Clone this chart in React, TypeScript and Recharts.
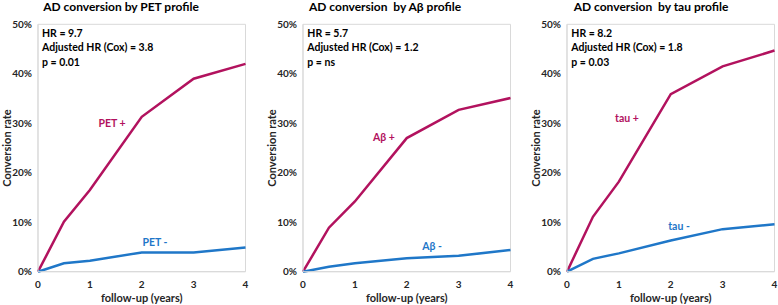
import React from 'react';
import { LineChart, Line, XAxis, YAxis, ReferenceArea } from 'recharts';

const years = [0, 0.5, 1, 2, 3, 4];
const xTicks = [0, 1, 2, 3, 4];
const yTicks = [0, 10, 20, 30, 40, 50];

const petPos = [0, 10.1, 16.5, 31.3, 39.0, 42.0];
const petNeg = [0, 1.7, 2.2, 3.9, 3.9, 4.9];
const abPos = [0, 8.9, 14.2, 27.0, 32.7, 35.1];
const abNeg = [0, 1.0, 1.7, 2.7, 3.2, 4.4];
const tauPos = [0, 11.1, 18.2, 35.9, 41.5, 44.7];
const tauNeg = [0, 2.6, 3.7, 6.3, 8.6, 9.6];

const titles = ['AD conversion by PET profile', 'AD conversion  by A\u03b2 profile', 'AD conversion  by tau profile'];
const stats = [
  ['HR = 9.7', 'Adjusted HR (Cox) = 3.8', 'p = 0.01'],
  ['HR = 5.7', 'Adjusted HR (Cox) = 1.2', 'p = ns'],
  ['HR = 8.2', 'Adjusted HR (Cox) = 1.8', 'p = 0.03'],
];
const posLabels = ['PET +', 'A\u03b2 +', 'tau +'];
const negLabels = ['PET -', 'A\u03b2 -', 'tau -'];
const posSeries = [petPos, abPos, tauPos];
const negSeries = [petNeg, abNeg, tauNeg];

const MAGENTA = '#B2125E';
const BLUE = '#1F77C8';
const FONT = 'Lato, "Open Sans", sans-serif';

const PLOT_LEFTS = [38, 303.3, 567.3];
const PLOT_W = 207.5;
const Y_AXIS_W = 38;
const TOP = 24.3;
const X_AXIS_H = 33.3;
const H = 305;

const posLabelPos = [[112, 123.3], [384, 137], [627, 118]];
const negLabelPos = [[155, 242], [432, 246], [679, 226]];
const titleCenters = [121, 385, 651];

function Panel({ i }: { i: number }) {
  const data = years.map((t, k) => ({ t, pos: posSeries[i][k], neg: negSeries[i][k] }));
  const left = PLOT_LEFTS[i] - Y_AXIS_W;
  const width = Y_AXIS_W + PLOT_W + 3;
  const tickStyle = { fontSize: 10, fontWeight: 700, fill: '#262626', fontFamily: FONT };
  return (
    <div style={{ position: 'absolute', left, top: 0 }}>
      <LineChart width={width} height={H} data={data} margin={{ top: TOP, right: 3, bottom: 0, left: 0 }}>
        <ReferenceArea x1={0} x2={4} y1={0} y2={50} fill="none" stroke="#d9d9d9" strokeWidth={1} ifOverflow="visible" />
        <XAxis
          dataKey="t"
          type="number"
          domain={[0, 4]}
          ticks={xTicks}
          height={X_AXIS_H}
          tickLine={false}
          tickSize={0}
          tickMargin={9}
          axisLine={{ stroke: '#d9d9d9' }}
          tick={tickStyle}
          label={{ value: 'follow-up (years)', position: 'insideBottom', offset: 3, style: { fontSize: 11, fontWeight: 700, fill: '#262626', fontFamily: FONT } }}
        />
        <YAxis
          type="number"
          domain={[0, 50]}
          ticks={yTicks}
          width={Y_AXIS_W}
          tickLine={false}
          tickSize={0}
          tickMargin={6}
          axisLine={{ stroke: '#d9d9d9' }}
          tick={tickStyle}
          tickFormatter={(v: number) => `${v}%`}
          label={{ value: 'Conversion rate', angle: -90, position: 'center', dx: -12, style: { fontSize: 11, fontWeight: 700, fill: '#262626', fontFamily: FONT, textAnchor: 'middle' } }}
        />
        <Line type="linear" dataKey="pos" stroke={MAGENTA} strokeWidth={2.5} dot={false} isAnimationActive={false} />
        <Line type="linear" dataKey="neg" stroke={BLUE} strokeWidth={2.5} dot={false} isAnimationActive={false} />
      </LineChart>
    </div>
  );
}

const textBase: React.CSSProperties = {
  position: 'absolute',
  fontFamily: FONT,
  fontWeight: 700,
  whiteSpace: 'pre',
  transform: 'translate(-50%, -50%)',
  lineHeight: 1,
};

export default function App() {
  return (
    <div style={{ position: 'absolute', left: 0, top: 0, width: 778, height: 305, background: '#fff', overflow: 'hidden' }}>
      {[0, 1, 2].map((i) => (
        <Panel key={i} i={i} />
      ))}
      {[0, 1, 2].map((i) => (
        <div key={'t' + i} style={{ ...textBase, left: titleCenters[i], top: 6.5, fontSize: 12, color: '#000' }}>
          {titles[i]}
        </div>
      ))}
      {[0, 1, 2].map((i) => (
        <div
          key={'s' + i}
          style={{
            position: 'absolute',
            left: PLOT_LEFTS[i] + 4,
            top: 26.2,
            fontFamily: FONT,
            fontWeight: 700,
            fontSize: 10.5,
            lineHeight: '14.2px',
            color: '#000',
            whiteSpace: 'pre',
          }}
        >
          {stats[i].map((s, k) => (
            <div key={k}>{s}</div>
          ))}
        </div>
      ))}
      {[0, 1, 2].map((i) => (
        <div key={'p' + i} style={{ ...textBase, left: posLabelPos[i][0], top: posLabelPos[i][1], fontSize: 10.5, color: MAGENTA }}>
          {posLabels[i]}
        </div>
      ))}
      {[0, 1, 2].map((i) => (
        <div key={'n' + i} style={{ ...textBase, left: negLabelPos[i][0], top: negLabelPos[i][1], fontSize: 10.5, color: BLUE }}>
          {negLabels[i]}
        </div>
      ))}
    </div>
  );
}
